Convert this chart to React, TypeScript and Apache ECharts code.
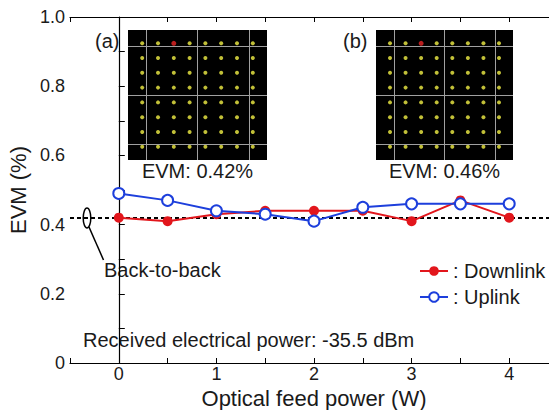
import React, { useEffect, useRef } from "react";
import * as echarts from "echarts";

// Main chart data
const opticalPower = [0, 0.5, 1, 1.5, 2, 2.5, 3, 3.5, 4];
const downlinkEVM = [0.42, 0.41, 0.43, 0.44, 0.44, 0.44, 0.41, 0.47, 0.42];
const uplinkEVM = [0.49, 0.47, 0.44, 0.43, 0.41, 0.45, 0.46, 0.46, 0.46];
const backToBackEVM = 0.42;

// Inset constellations (64-QAM)
const qamLevels = [-7, -5, -3, -1, 1, 3, 5, 7];
const markedSymbol = [-3, 7];
const insetLinesI = [-6.5, 0, 6.5];
const insetLinesQ = [-6.6, 0, 6.6];
const insetLabels = ["(a)", "(b)"];
const insetEVM = ["EVM: 0.42%", "EVM: 0.46%"];

const FONT = "'Liberation Sans', Arial, Helvetica, sans-serif";
const RED = "#e2161c";
const BLUE = "#1d3fdc";
const TXT = "#1a1a1a";

export default function App() {
  const ref = useRef<HTMLDivElement>(null);

  useEffect(() => {
    if (!ref.current) return;
    const chart = echarts.init(ref.current, undefined, { renderer: "svg" });

    const qamPoints = qamLevels
      .flatMap((i) => qamLevels.map((q) => [i, q]))
      .filter((p) => !(p[0] === markedSymbol[0] && p[1] === markedSymbol[1]));

    const insetAxis = { show: false, type: "value", min: -8.8, max: 8.8 };

    const insetSeries = (idx: number) => [
      {
        type: "scatter",
        xAxisIndex: idx + 2,
        yAxisIndex: idx + 1,
        data: qamPoints,
        symbolSize: 4,
        itemStyle: { color: "#f2f046" },
        silent: true,
        z: 4,
        markLine: {
          silent: true,
          symbol: "none",
          label: { show: false },
          lineStyle: { color: "#a0a0a0", width: 1, type: "solid" },
          data: [
            ...insetLinesI.map((v) => ({ xAxis: v })),
            ...insetLinesQ.map((v) => ({ yAxis: v })),
          ],
        },
      },
      {
        type: "scatter",
        xAxisIndex: idx + 2,
        yAxisIndex: idx + 1,
        data: [markedSymbol],
        symbolSize: 5,
        itemStyle: { color: "#e82626" },
        silent: true,
        z: 5,
      },
    ];

    const insetBoxes = [
      { left: 128, top: 30, width: 139, height: 130 },
      { left: 376, top: 30, width: 137, height: 130 },
    ];

    const option: any = {
      animation: false,
      backgroundColor: "#fff",
      textStyle: { fontFamily: FONT },
      grid: [
        { left: 70, top: 17, right: -9, bottom: 47, outerBoundsMode: "none", containLabel: false },
        ...insetBoxes.map((b) => ({
          ...b,
          show: true,
          backgroundColor: "#000",
          borderWidth: 0,
          outerBoundsMode: "none",
          containLabel: false,
        })),
      ],
      xAxis: [
        {
          gridIndex: 0,
          type: "value",
          position: "bottom",
          min: -0.5,
          max: 4.5,
          interval: 0.5,
          name: "Optical feed power (W)",
          nameLocation: "middle",
          nameGap: 17,
          nameTextStyle: { fontSize: 22, color: TXT, fontFamily: FONT, lineHeight: 22 },
          axisLine: { show: true, lineStyle: { color: "#000", width: 1.2 } },
          axisTick: { show: true, inside: true, length: 5, lineStyle: { color: "#000" } },
          splitLine: { show: false },
          axisLabel: {
            fontSize: 18,
            color: TXT,
            margin: 2,
            fontFamily: FONT,
            formatter: (v: number) => (Math.abs(v - Math.round(v)) < 1e-6 && v >= 0 && v <= 4 ? String(Math.round(v)) : ""),
          },
        },
        {
          gridIndex: 0,
          type: "value",
          position: "top",
          min: -0.5,
          max: 4.5,
          interval: 0.5,
          axisLine: { show: true, onZero: false, lineStyle: { color: "#000", width: 1.2 } },
          axisTick: { show: true, inside: true, length: 5, lineStyle: { color: "#000" } },
          axisLabel: { show: false },
          splitLine: { show: false },
        },
        { ...insetAxis, gridIndex: 1 },
        { ...insetAxis, gridIndex: 2 },
      ],
      yAxis: [
        {
          gridIndex: 0,
          type: "value",
          min: 0,
          max: 1,
          interval: 0.1,
          name: "EVM (%)",
          nameLocation: "middle",
          nameGap: 36,
          nameTextStyle: { fontSize: 22, color: TXT, fontFamily: FONT },
          axisLine: { show: true, lineStyle: { color: "#000", width: 1.2 } },
          axisTick: { show: true, inside: true, length: 6, lineStyle: { color: "#000" } },
          splitLine: { show: false },
          axisLabel: {
            fontSize: 18,
            color: TXT,
            margin: 5,
            fontFamily: FONT,
            formatter: (v: number) => {
              const k = Math.round(v * 10);
              if (k % 2 !== 0) return "";
              return k === 0 ? "0" : (k / 10).toFixed(1);
            },
          },
        },
        { ...insetAxis, gridIndex: 1 },
        { ...insetAxis, gridIndex: 2 },
      ],
      legend: {
        data: ["Downlink", "Uplink"],
        orient: "vertical",
        left: 419,
        top: 261,
        padding: 0,
        itemWidth: 28,
        itemHeight: 12,
        itemGap: 6,
        formatter: (name: string) => ": " + name,
        textStyle: { fontSize: 20, color: TXT, fontFamily: FONT, lineHeight: 20 },
      },
      series: [
        {
          name: "Downlink",
          type: "line",
          xAxisIndex: 0,
          yAxisIndex: 0,
          data: opticalPower.map((x, i) => [x, downlinkEVM[i]]),
          symbol: "circle",
          symbolSize: 10,
          lineStyle: { color: RED, width: 2 },
          itemStyle: { color: RED },
          z: 3,
          markLine: {
            silent: true,
            symbol: "none",
            label: { show: false },
            lineStyle: { color: "#000", width: 2, type: [4, 3] },
            data: [{ yAxis: backToBackEVM }],
            z: 2,
          },
        },
        {
          name: "Uplink",
          type: "line",
          xAxisIndex: 0,
          yAxisIndex: 0,
          data: opticalPower.map((x, i) => [x, uplinkEVM[i]]),
          symbol: "emptyCircle",
          symbolSize: 11,
          lineStyle: { color: BLUE, width: 2 },
          itemStyle: { color: BLUE, borderWidth: 2 },
          z: 4,
        },
        ...insetSeries(0),
        ...insetSeries(1),
      ],
      graphic: [
        ...insetBoxes.map((b, i) => ({
          type: "text",
          x: b.left - 33,
          y: 41,
          style: { text: insetLabels[i], fontSize: 20, fill: TXT, fontFamily: FONT, textVerticalAlign: "middle" },
        })),
        ...insetBoxes.map((b, i) => ({
          type: "text",
          x: b.left + b.width / 2,
          y: 171,
          style: {
            text: insetEVM[i],
            fontSize: 20,
            fill: TXT,
            fontFamily: FONT,
            textAlign: "center",
            textVerticalAlign: "middle",
          },
        })),
        {
          type: "ellipse",
          shape: { cx: 87, cy: 218, rx: 3.8, ry: 10 },
          style: { fill: "none", stroke: "#000", lineWidth: 1.5 },
          z: 10,
        },
        {
          type: "line",
          shape: { x1: 89, y1: 227, x2: 103.5, y2: 260 },
          style: { stroke: "#000", lineWidth: 1.5 },
          z: 10,
        },
        {
          type: "text",
          x: 104,
          y: 270,
          style: { text: "Back-to-back", fontSize: 20, fill: TXT, fontFamily: FONT, textVerticalAlign: "middle" },
        },
        {
          type: "text",
          x: 83,
          y: 340,
          style: {
            text: "Received electrical power: -35.5 dBm",
            fontSize: 20,
            fill: TXT,
            fontFamily: FONT,
            textVerticalAlign: "middle",
          },
        },
      ],
    };

    chart.setOption(option);
    return () => chart.dispose();
  }, []);

  return (
    <div
      ref={ref}
      style={{ position: "absolute", left: 0, top: 0, width: 549, height: 410 }}
    />
  );
}
